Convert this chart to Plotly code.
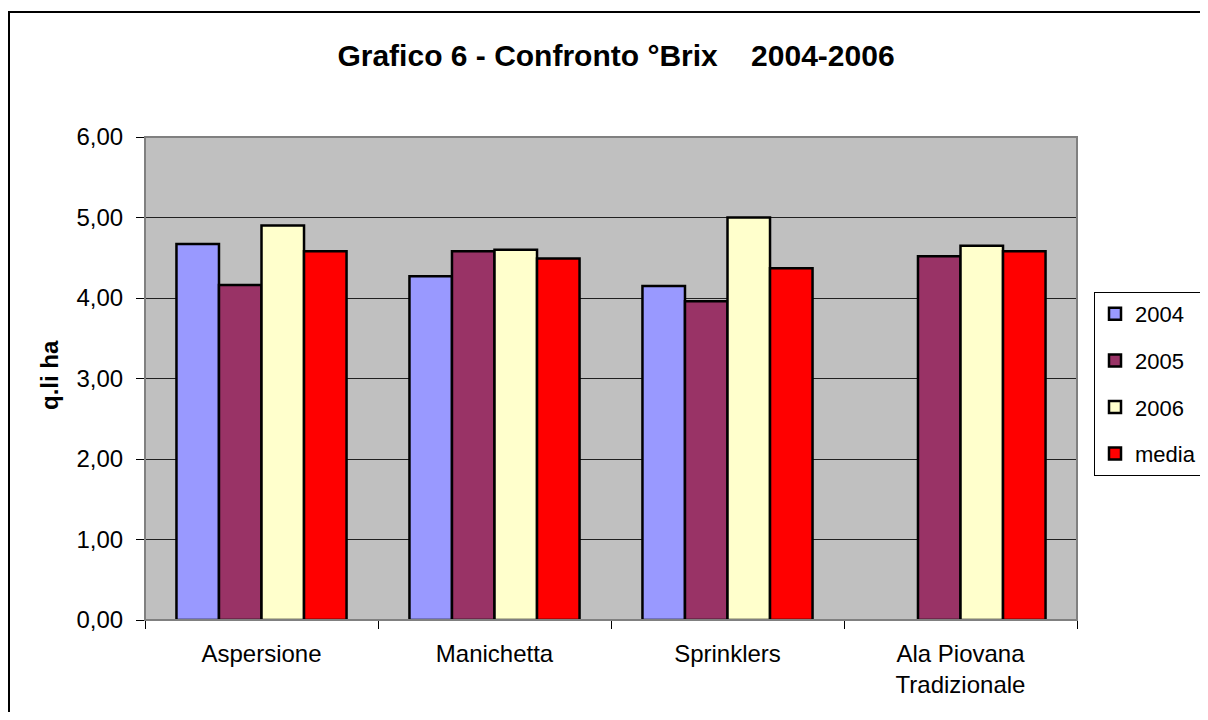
import plotly.graph_objects as go

categories = ["Aspersione", "Manichetta", "Sprinklers", "Ala Piovana<br>Tradizionale"]
series_names = ["2004", "2005", "2006", "media"]
v2004 = [4.67, 4.27, 4.15, None]
v2005 = [4.16, 4.58, 3.96, 4.52]
v2006 = [4.90, 4.60, 5.00, 4.65]
vmedia = [4.58, 4.49, 4.37, 4.58]
y_ticks = [0, 1, 2, 3, 4, 5, 6]

colors = ["#9999FF", "#993366", "#FFFFCC", "#FF0000"]
values = [v2004, v2005, v2006, vmedia]

fig = go.Figure()
for name, vals, col in zip(series_names, values, colors):
    fig.add_trace(go.Bar(
        x=categories, y=vals, name=name, legendgroup=name,
        marker=dict(color=col, line=dict(color="black", width=2.5)),
    ))

OFF = 8  # page body margin
W, H = 1208 - 2 * OFF, 720 - 2 * OFF
# plot area in page pixels: x 145..1077, y 137..620
L = 145 - OFF
R = (W + OFF) - 1077
T = 137 - OFF
B = (H + OFF) - 620
pw, ph = W - L - R, H - T - B

def px(x):
    return (x - OFF - L) / pw

def py(y):
    return (H + OFF - B - y) / ph

def cx(x):
    return (x - OFF) / W

def cy(y):
    return 1 - (y - OFF) / H

fig.update_layout(
    width=W, height=H,
    margin=dict(l=L, r=R, t=T, b=B, autoexpand=False),
    paper_bgcolor="white",
    plot_bgcolor="#C0C0C0",
    separators=",.",
    barmode="group",
    bargap=0.27,
    bargroupgap=0,
    font=dict(family="Liberation Sans, Arial, sans-serif", color="black", size=24),
    title=dict(text="Grafico 6 - Confronto °Brix\u00a0\u00a0\u00a0 2004-2006",
               x=px(616), xref="paper", xanchor="center",
               y=1 - (55 - OFF) / H, yanchor="middle",
               font=dict(size=30, family="Liberation Sans, Arial, sans-serif", weight="bold")),
    showlegend=True,
    legend=dict(
        xref="container", yref="container",
        x=cx(1094), y=cy(292), xanchor="left", yanchor="top",
        bgcolor="white", bordercolor="black", borderwidth=1,
        font=dict(size=22),
        traceorder="grouped", tracegroupgap=15,
    ),
    xaxis=dict(
        showline=True, linecolor="black", linewidth=1,
        ticks="outside", tickson="boundaries", ticklen=8, tickcolor="black",
        showgrid=False, tickfont=dict(size=24), ticklabelstandoff=12,
    ),
    yaxis=dict(
        range=[0, 6], tickvals=y_ticks, tickformat=".2f",
        showline=True, linecolor="black", linewidth=1,
        ticks="outside", ticklen=8, tickcolor="black",
        showgrid=True, gridcolor="#202020", gridwidth=1,
        zeroline=False, tickfont=dict(size=24), ticklabelstandoff=8,
    ),
    shapes=[
        dict(type="rect", xref="paper", yref="paper", x0=0, x1=1, y0=0, y1=1,
             line=dict(color="#808080", width=2), layer="above"),
        dict(type="rect", xref="paper", yref="paper",
             x0=px(9), x1=px(1240), y0=py(760), y1=py(12),
             line=dict(color="black", width=2)),
    ],
    annotations=[
        dict(text="<b>q.li ha</b>", xref="paper", yref="paper",
             x=px(49), y=py(375), textangle=-90, showarrow=False,
             font=dict(size=24), xanchor="center", yanchor="middle"),
    ],
)

fig.write_html("out.html")
